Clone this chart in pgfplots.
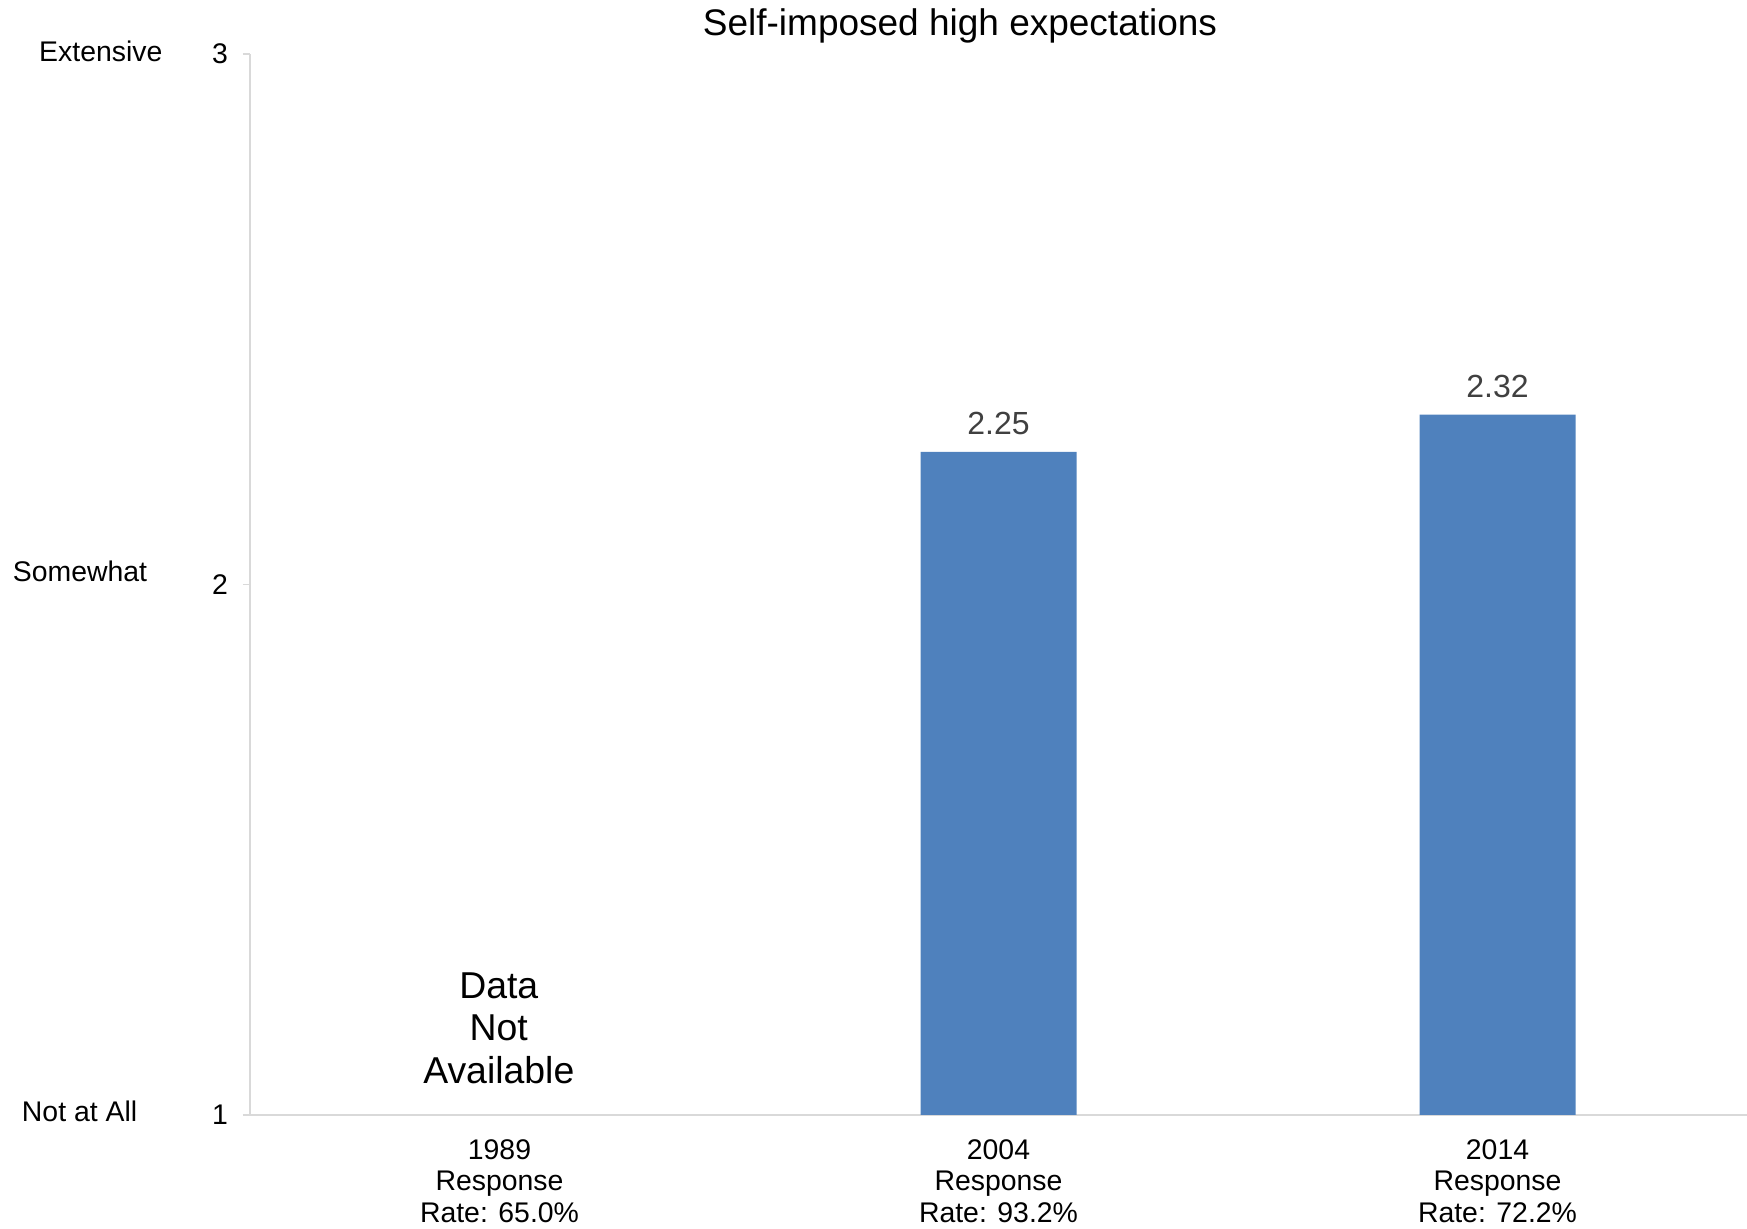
\documentclass[border=0pt]{standalone}
\usepackage{fontspec}
\setmainfont{Liberation Sans}
\usepackage{pgfplots}
\pgfplotsset{compat=1.18}
\definecolor{barblue}{HTML}{4F81BD}
\definecolor{axgray}{HTML}{D9D9D9}
\definecolor{lblgray}{HTML}{404040}
\begin{document}
\begin{tikzpicture}
\begin{axis}[
 at={(0,0)}, anchor=south west,
 scale only axis, width=748.5bp, height=530.5bp,
 xmin=-0.5, xmax=2.5, ymin=1, ymax=3,
 axis x line*=bottom, axis y line*=left,
 axis line style={draw=axgray, line width=0.7bp},
 xtick={0,1,2},
 xticklabels={{1989\\Response\\Rate: 65.0\%},{2004\\Response\\Rate: 93.2\%},{2014\\Response\\Rate: 72.2\%}},
 xticklabel style={align=center, font=\fontsize{14.2bp}{15.8bp}\selectfont, anchor=north, inner sep=0pt, yshift=-8.4bp},
 x tick style={draw=none},
 ytick={1,2,3}, yticklabels={1,2,3},
 yticklabel style={font=\fontsize{14.2bp}{16bp}\selectfont, anchor=east, inner sep=0pt, xshift=-7.3bp},
 y tick style={draw=axgray, line width=0.7bp},
 tick align=outside, major tick length=3.5bp,
 ybar, bar width=78bp,
 nodes near coords,
 point meta=explicit symbolic,
 every node near coord/.append style={font=\fontsize{16bp}{18bp}\selectfont, color=lblgray, anchor=base, inner sep=0pt, yshift=8.7bp},
]
\addplot[fill=barblue, draw=none] coordinates {(1,2.25) [2.25] (2,2.32) [2.32]};
\end{axis}
\node[font=\fontsize{14.2bp}{16bp}\selectfont, inner sep=0pt] at (-74.6bp,532bp) {Extensive};
\node[font=\fontsize{14.2bp}{16bp}\selectfont, inner sep=0pt] at (-85bp,271.8bp) {Somewhat};
\node[font=\fontsize{14.2bp}{16bp}\selectfont, inner sep=0pt] at (-85.2bp,1.7bp) {Not at All};
\node[font=\fontsize{18.5bp}{21bp}\selectfont, inner sep=0pt] at (355bp,544.7bp) {Self-imposed high expectations};
\node[font=\fontsize{18.7bp}{21.4bp}\selectfont, inner sep=0pt, align=center] at (124.4bp,43.4bp) {Data\\Not\\Available};
\pgfresetboundingbox
\useasboundingbox (-125bp,-57bp) rectangle (748.5bp,557.5bp);
\end{tikzpicture}
\end{document}
